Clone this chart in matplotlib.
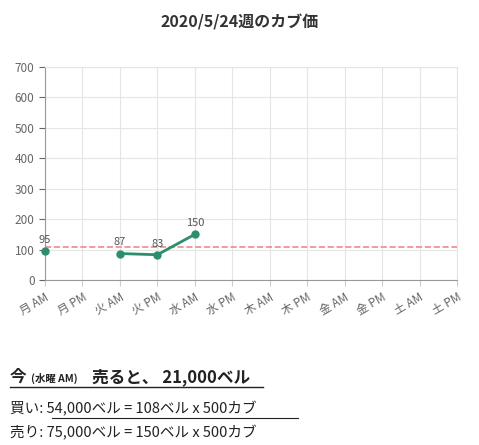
import matplotlib
matplotlib.use("Agg")
import matplotlib.pyplot as plt
import numpy as np

plt.rcParams['font.family'] = ['Noto Sans CJK JP', 'DejaVu Sans']

categories = ['月 AM','月 PM','火 AM','火 PM','水 AM','水 PM','木 AM','木 PM','金 AM','金 PM','土 AM','土 PM']
prices = [95, None, 87, 83, 150, None, None, None, None, None, None, None]
buy_price = 108
title = '2020/5/24週のカブ価'

fig = plt.figure(figsize=(4.79, 4.45), dpi=100)
ax = fig.add_axes([45/479, 1-280/445, 412/479, 213/445])
x = np.arange(len(categories))
y = np.array([np.nan if v is None else v for v in prices], dtype=float)
green = '#2a8f6a'
ax.plot(x, y, color=green, lw=2, marker='o', ms=5, clip_on=False, zorder=3)
for xi, v in zip(x, prices):
    if v is not None:
        ax.text(xi, v + 20, str(v), ha='center', va='bottom', fontsize=8, color='#555555')
ax.axhline(buy_price, color='#f08a8a', ls='--', lw=1.2, zorder=2)
ax.set_xlim(0, len(categories) - 1)
ax.set_ylim(0, 700)
ax.set_yticks(range(0, 701, 100))
ax.set_xticks(x)
ax.set_xticklabels(categories, rotation=30, ha='right', rotation_mode='anchor', fontsize=8.5, color='#666666')
ax.tick_params(axis='y', labelsize=8.5, colors='#666666', length=4)
ax.tick_params(axis='x', length=4, colors='#cccccc', labelcolor='#666666')
ax.grid(True, color='#e5e5e5', lw=0.8)
for s in ax.spines.values():
    s.set_color('#e5e5e5')
ax.spines['left'].set_color('#999999')
ax.spines['bottom'].set_color('#999999')
ax.set_axisbelow(True)

fig.text(0.5, 1-22/445, title, ha='center', va='center', fontsize=11.5, fontweight='bold', color='#333333')

yb = 1-382/445
fig.text(10/479, yb, '今', fontsize=12, fontweight='bold', color='#222222', va='baseline')
fig.text(31/479, yb, '(水曜 AM)', fontsize=7.5, fontweight='bold', color='#222222', va='baseline')
fig.text(92/479, yb, '売ると、 21,000ベル', fontsize=12, fontweight='bold', color='#222222', va='baseline')
fig.lines.append(plt.Line2D([10/479, 263/479], [1-387/445]*2, color='#222222', lw=1, transform=fig.transFigure))
fig.text(10/479, 1-409/445, '買い: 54,000ベル = 108ベル x 500カブ', fontsize=10.5, color='#222222', va='center')
fig.lines.append(plt.Line2D([52/479, 298/479], [1-418/445]*2, color='#222222', lw=0.8, transform=fig.transFigure))
fig.text(10/479, 1-433/445, '売り: 75,000ベル = 150ベル x 500カブ', fontsize=10.5, color='#222222', va='center')
fig.savefig('out.png', dpi=100)
